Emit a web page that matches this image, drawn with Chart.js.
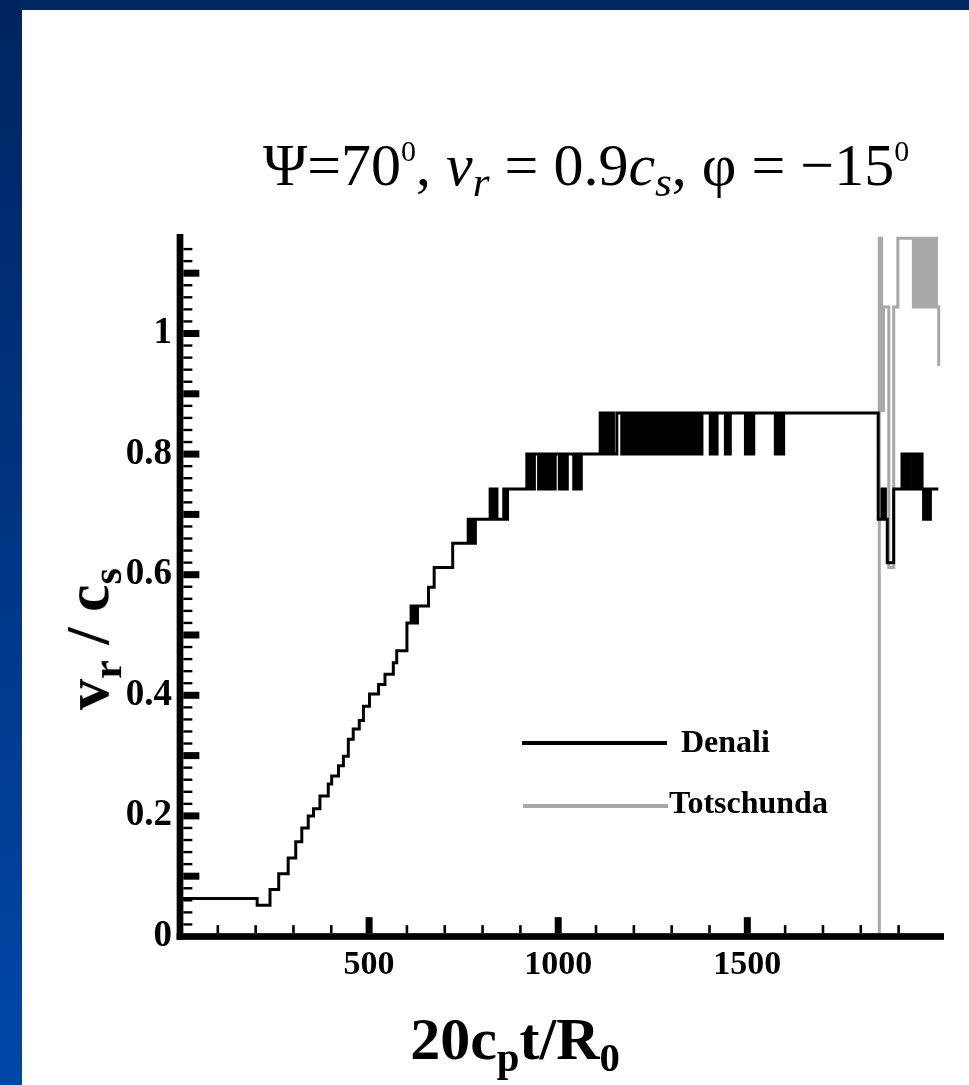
<!DOCTYPE html>
<html lang="en">
<head>
    <meta charset="UTF-8">
    <title>Rupture velocity on Denali and Totschunda</title>
    <script src="https://cdn.jsdelivr.net/npm/chart.js"></script>
    <style>
        html, body {
            margin: 0;
            padding: 0;
        }
        body {
            width: 969px;
            height: 1085px;
            position: relative;
            overflow: hidden;
            background: #ffffff;
            font-family: 'Liberation Serif', 'Times New Roman', serif;
            color: #000;
        }
        .frame-top {
            position: absolute;
            left: 0; top: 0;
            width: 969px; height: 10px;
            background: #002664;
        }
        .frame-left {
            position: absolute;
            left: 0; top: 0;
            width: 22px; height: 1085px;
            background: linear-gradient(#002461, #0047a8);
        }
        .chart-container {
            position: absolute;
            left: 0; top: 0;
            width: 969px; height: 1085px;
        }
        .label {
            position: absolute;
            white-space: nowrap;
            line-height: 1;
        }
        .title {
            left: 263px;
            top: 135px;
            font-size: 60px;
        }
        .title sup { font-size: 50%; vertical-align: 0.8em; }
        .title sub { font-size: 72%; vertical-align: -0.25em; }
        .x-title {
            left: 515px;
            top: 1009px;
            font-size: 60px;
            font-weight: bold;
            transform: translateX(-50%);
        }
        .y-title {
            left: 92px;
            top: 639px;
            font-size: 62px;
            font-weight: bold;
            transform: translate(-50%, -50%) rotate(-90deg);
        }
        .x-title sub, .y-title sub { font-size: 68%; vertical-align: -0.3em; }
        .legend-line {
            position: absolute;
            height: 3.5px;
        }
        .legend-text {
            position: absolute;
            font-size: 32px;
            font-weight: bold;
            line-height: 1;
            white-space: nowrap;
        }
    </style>
</head>
<body>
    <div class="frame-top"></div>
    <div class="frame-left"></div>
    <div class="chart-container">
        <canvas id="rateChart"></canvas>
    </div>
    <div class="label title">&Psi;=70<sup>0</sup>, <i>v<sub>r</sub></i> = 0.9<i>c<sub>s</sub></i>, &phi; = &minus;15<sup>0</sup></div>
    <div class="label x-title">20c<sub>p</sub>t/R<sub>0</sub></div>
    <div class="label y-title">v<sub>r</sub> / c<sub>s</sub></div>
    <div id="legend"></div>

    <script>
        // time 20 c_p t / R0 where each level starts, and v_r / c_s from there on
        const denaliT = [
            0, 204, 238, 261, 286, 306, 322, 339, 353, 370, 392, 401, 419, 432, 445, 458, 474, 485,
            501, 525, 542, 564, 573, 600, 611, 615, 620, 624, 628, 657, 672, 721,
            762, 767, 772, 777, 781, 820, 826, 832, 838, 856, 861, 866,
            917, 922, 927, 932, 937,
            948, 953, 958, 963, 968, 973, 978, 983, 988, 992,
            1003, 1008, 1013, 1018, 1021, 1024,
            1041, 1046, 1050, 1055, 1058, 1061,
            1111, 1116, 1121, 1126, 1131, 1136, 1141, 1146, 1155,
            1168, 1173, 1178, 1183, 1188, 1193, 1198, 1203, 1208, 1213, 1218, 1223, 1228, 1233,
            1238, 1243, 1248, 1253, 1258, 1263, 1266, 1270,
            1274, 1279, 1284, 1289, 1294, 1299, 1304, 1309, 1314, 1319, 1324, 1329, 1334, 1339,
            1344, 1349, 1351, 1354,
            1358, 1363, 1368, 1373, 1377, 1380,
            1402, 1408, 1413, 1420,
            1442, 1448, 1451, 1455,
            1495, 1500, 1505, 1511, 1514, 1517,
            1574, 1580, 1585, 1590, 1593, 1596,
            1846, 1856, 1859, 1862, 1865, 1870, 1887,
            1909, 1914, 1919, 1924, 1928, 1931,
            1939, 1944, 1949, 1954, 1959, 1962,
            1966, 1971, 1976, 1984, 2005
        ];
        const denaliV = [
            0.063, 0.052, 0.078, 0.104, 0.130, 0.157, 0.180, 0.200, 0.212, 0.233, 0.253, 0.266, 0.283, 0.299, 0.327, 0.344, 0.358, 0.382,
            0.402, 0.418, 0.435, 0.454, 0.474, 0.520, 0.548, 0.520, 0.548, 0.520, 0.548, 0.579, 0.612, 0.652,
            0.692, 0.652, 0.692, 0.652, 0.692, 0.742, 0.692, 0.742, 0.692, 0.742, 0.692, 0.742,
            0.8, 0.742, 0.8, 0.742, 0.8,
            0.742, 0.8, 0.742, 0.8, 0.742, 0.8, 0.742, 0.8, 0.742, 0.8,
            0.742, 0.8, 0.742, 0.8, 0.742, 0.8,
            0.742, 0.8, 0.742, 0.8, 0.742, 0.8,
            0.868, 0.8, 0.868, 0.8, 0.868, 0.8, 0.868, 0.8, 0.868,
            0.8, 0.868, 0.8, 0.868, 0.8, 0.868, 0.8, 0.868, 0.8, 0.868, 0.8, 0.868, 0.8, 0.868,
            0.8, 0.868, 0.8, 0.868, 0.8, 0.868, 0.8, 0.868,
            0.8, 0.868, 0.8, 0.868, 0.8, 0.868, 0.8, 0.868, 0.8, 0.868, 0.8, 0.868, 0.8, 0.868,
            0.8, 0.868, 0.8, 0.868,
            0.8, 0.868, 0.8, 0.868, 0.8, 0.868,
            0.8, 0.868, 0.8, 0.868,
            0.8, 0.868, 0.8, 0.868,
            0.8, 0.868, 0.8, 0.868, 0.8, 0.868,
            0.8, 0.868, 0.8, 0.868, 0.8, 0.868,
            0.692, 0.742, 0.692, 0.742, 0.692, 0.620, 0.742,
            0.8, 0.742, 0.8, 0.742, 0.8, 0.742,
            0.8, 0.742, 0.8, 0.742, 0.8, 0.742,
            0.692, 0.742, 0.692, 0.742, 0.742
        ];

        const totschundaT = [
            0, 1849, 1855, 1860, 1874, 1887, 1898,
            1939, 1944, 1949, 1954, 1956, 1959,
            1962, 1967, 1972, 1977, 1982, 1987, 1992, 1997,
            2000, 2006
        ];
        const totschundaV = [
            0, 1.158, 0.872, 1.044, 0.612, 1.044, 1.158,
            1.044, 1.158, 1.044, 1.158, 1.044, 1.158,
            1.044, 1.158, 1.044, 1.158, 1.044, 1.158, 1.044, 1.158,
            1.044, 0.946
        ];

        const seriesNames = ['Denali', 'Totschunda'];
        const seriesColors = ['#000000', '#a8a8a8'];

        // labelled ticks
        const xLabelTicks = [500, 1000, 1500];
        const yLabelTicks = [0, 0.2, 0.4, 0.6, 0.8, 1];

        const xMax = 2020;
        const yMax = 1.165;

        const serif = "'Liberation Serif', 'Times New Roman', serif";

        function toPoints(ts, vs) {
            return ts.map((t, i) => ({ x: t, y: vs[i] }));
        }

        // heavy axis lines with inward major/minor ticks, drawn over the lines
        const axisFrame = {
            id: 'axisFrame',
            afterDatasetsDraw(chart) {
                const ctx = chart.ctx;
                const area = chart.chartArea;
                const xs = chart.scales.x;
                const ys = chart.scales.y;
                const axisW = 6.7;
                ctx.save();
                ctx.fillStyle = '#000';

                // axis lines
                ctx.fillRect(area.left - axisW / 2, area.top, axisW, area.bottom - area.top + axisW / 2);
                ctx.fillRect(area.left - axisW / 2, area.bottom - axisW / 2, area.right - area.left + axisW / 2, axisW);

                const yEdge = area.left + axisW / 2;
                const xEdge = area.bottom - axisW / 2;

                // y ticks: major every 0.1, minor every 0.02
                for (let k = 1; k * 0.02 < 1.15; k++) {
                    const py = ys.getPixelForValue(k * 0.02);
                    if (k % 5 === 0) {
                        ctx.fillRect(yEdge, py - 3.5, 16, 7);
                    } else {
                        ctx.fillRect(yEdge, py - 1.2, 9, 2.4);
                    }
                }

                // x ticks: major every 500, minor every 100
                for (let k = 1; k <= 19; k++) {
                    const px = xs.getPixelForValue(k * 100);
                    if (k % 5 === 0) {
                        ctx.fillRect(px - 3.5, xEdge - 16, 7, 16);
                    } else {
                        ctx.fillRect(px - 1.3, xEdge - 8, 2.6, 8);
                    }
                }
                ctx.restore();
            }
        };

        const ctx = document.getElementById('rateChart').getContext('2d');
        const chart = new Chart(ctx, {
            type: 'line',
            data: {
                datasets: [
                    {
                        label: seriesNames[0],
                        data: toPoints(denaliT, denaliV),
                        borderColor: seriesColors[0],
                        borderWidth: 3,
                        stepped: true,
                        pointRadius: 0,
                        fill: false
                    },
                    {
                        label: seriesNames[1],
                        data: toPoints(totschundaT, totschundaV),
                        borderColor: seriesColors[1],
                        borderWidth: 3,
                        stepped: true,
                        pointRadius: 0,
                        fill: false
                    }
                ]
            },
            options: {
                responsive: true,
                maintainAspectRatio: false,
                animation: false,
                layout: {
                    padding: { top: 234, right: 25, left: 0, bottom: 0 }
                },
                plugins: {
                    legend: { display: false },
                    tooltip: { enabled: false }
                },
                scales: {
                    x: {
                        type: 'linear',
                        min: 0,
                        max: xMax,
                        grid: { display: false, drawTicks: false },
                        border: { display: false },
                        afterBuildTicks: scale => {
                            scale.ticks = xLabelTicks.map(v => ({ value: v }));
                        },
                        afterFit: scale => { scale.height = 148.5; },
                        ticks: {
                            padding: 8,
                            maxRotation: 0,
                            autoSkip: false,
                            color: '#000',
                            font: { family: serif, size: 34, weight: 'bold' },
                            callback: v => String(v)
                        }
                    },
                    y: {
                        type: 'linear',
                        min: 0,
                        max: yMax,
                        grid: { display: false, drawTicks: false },
                        border: { display: false },
                        afterBuildTicks: scale => {
                            scale.ticks = yLabelTicks.map(v => ({ value: v }));
                        },
                        afterFit: scale => { scale.width = 180; },
                        ticks: {
                            padding: 8,
                            autoSkip: false,
                            color: '#000',
                            font: { family: serif, size: 37, weight: 'bold' },
                            callback: v => String(v)
                        }
                    }
                }
            },
            plugins: [axisFrame]
        });

        // legend inside the plot: a line sample followed by the series name
        const legendRows = [
            { lineLeft: 522, lineRight: 667, lineY: 743, textLeft: 681, textTop: 725 },
            { lineLeft: 523, lineRight: 668, lineY: 806, textLeft: 669, textTop: 786 }
        ];
        const legendBox = document.getElementById('legend');
        chart.data.datasets.forEach((ds, i) => {
            const row = legendRows[i];
            const line = document.createElement('div');
            line.className = 'legend-line';
            line.style.left = row.lineLeft + 'px';
            line.style.width = (row.lineRight - row.lineLeft) + 'px';
            line.style.top = (row.lineY - 1.75) + 'px';
            line.style.background = ds.borderColor;
            legendBox.appendChild(line);

            const text = document.createElement('div');
            text.className = 'legend-text';
            text.style.left = row.textLeft + 'px';
            text.style.top = row.textTop + 'px';
            text.textContent = ds.label;
            legendBox.appendChild(text);
        });
    </script>
</body>
</html>
